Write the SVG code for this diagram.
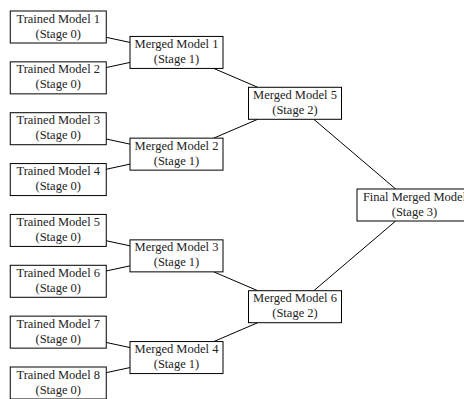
<svg xmlns="http://www.w3.org/2000/svg" width="464" height="399" viewBox="0 0 464 399">
<style>
rect.box{fill:#fff;stroke:#000;stroke-width:1}
text{font-family:"Liberation Serif","DejaVu Serif",serif;font-size:12.5px;fill:#222;text-anchor:middle}
#connectors line{stroke:#000;stroke-width:1}
</style>
<rect width="464" height="399" fill="#fff"/>
<g id="connectors">
<line x1="106.25" y1="37.32" x2="130" y2="42.43"/>
<line x1="106.25" y1="67.54" x2="130" y2="62.43"/>
<line x1="106.25" y1="139.03" x2="130" y2="144.14"/>
<line x1="106.25" y1="169.25" x2="130" y2="164.14"/>
<line x1="106.25" y1="240.75" x2="130" y2="245.86"/>
<line x1="106.25" y1="270.97" x2="130" y2="265.86"/>
<line x1="106.25" y1="342.46" x2="130" y2="347.57"/>
<line x1="106.25" y1="372.68" x2="130" y2="367.57"/>
<line x1="213.78" y1="68.43" x2="257.72" y2="87.29"/>
<line x1="213.78" y1="138.14" x2="257.72" y2="119.29"/>
<line x1="213.78" y1="271.86" x2="257.72" y2="290.71"/>
<line x1="213.78" y1="341.57" x2="257.72" y2="322.71"/>
<line x1="313.8" y1="119.29" x2="395.7" y2="189"/>
<line x1="313.8" y1="290.71" x2="395.7" y2="221"/>
</g>
<g id="t1"><rect class="box" x="10.25" y="11" width="96" height="32"/><text x="58.25" y="22.5">Trained Model 1</text><text x="58.25" y="37.5">(Stage 0)</text></g>
<g id="t2"><rect class="box" x="10.25" y="61.86" width="96" height="32"/><text x="58.25" y="73.36">Trained Model 2</text><text x="58.25" y="88.36">(Stage 0)</text></g>
<g id="t3"><rect class="box" x="10.25" y="112.71" width="96" height="32"/><text x="58.25" y="124.21">Trained Model 3</text><text x="58.25" y="139.21">(Stage 0)</text></g>
<g id="t4"><rect class="box" x="10.25" y="163.57" width="96" height="32"/><text x="58.25" y="175.07">Trained Model 4</text><text x="58.25" y="190.07">(Stage 0)</text></g>
<g id="t5"><rect class="box" x="10.25" y="214.43" width="96" height="32"/><text x="58.25" y="225.93">Trained Model 5</text><text x="58.25" y="240.93">(Stage 0)</text></g>
<g id="t6"><rect class="box" x="10.25" y="265.29" width="96" height="32"/><text x="58.25" y="276.79">Trained Model 6</text><text x="58.25" y="291.79">(Stage 0)</text></g>
<g id="t7"><rect class="box" x="10.25" y="316.14" width="96" height="32"/><text x="58.25" y="327.64">Trained Model 7</text><text x="58.25" y="342.64">(Stage 0)</text></g>
<g id="t8"><rect class="box" x="10.25" y="367" width="96" height="32"/><text x="58.25" y="378.5">Trained Model 8</text><text x="58.25" y="393.5">(Stage 0)</text></g>
<g id="m1"><rect class="box" x="130" y="36.43" width="93" height="32"/><text x="176.5" y="47.93">Merged Model 1</text><text x="176.5" y="62.93">(Stage 1)</text></g>
<g id="m2"><rect class="box" x="130" y="138.14" width="93" height="32"/><text x="176.5" y="149.64">Merged Model 2</text><text x="176.5" y="164.64">(Stage 1)</text></g>
<g id="m3"><rect class="box" x="130" y="239.86" width="93" height="32"/><text x="176.5" y="251.36">Merged Model 3</text><text x="176.5" y="266.36">(Stage 1)</text></g>
<g id="m4"><rect class="box" x="130" y="341.57" width="93" height="32"/><text x="176.5" y="353.07">Merged Model 4</text><text x="176.5" y="368.07">(Stage 1)</text></g>
<g id="m5"><rect class="box" x="248.5" y="87.29" width="93" height="32"/><text x="295" y="98.79">Merged Model 5</text><text x="295" y="113.79">(Stage 2)</text></g>
<g id="m6"><rect class="box" x="248.5" y="290.71" width="93" height="32"/><text x="295" y="302.21">Merged Model 6</text><text x="295" y="317.21">(Stage 2)</text></g>
<g id="final"><rect class="box" x="357" y="189" width="115" height="32"/><text x="414.5" y="200.5">Final Merged Model</text><text x="414.5" y="215.5">(Stage 3)</text></g>
</svg>
